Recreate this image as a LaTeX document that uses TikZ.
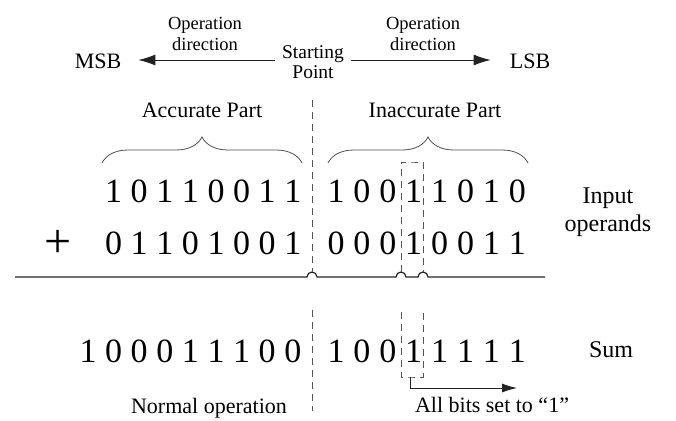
\documentclass[tikz,border=0pt]{standalone}
\usepackage{fontspec}
\setmainfont{Liberation Serif}
\usetikzlibrary{arrows.meta, positioning, calc, decorations.pathreplacing}
\definecolor{inkgray}{RGB}{35,35,35}
\definecolor{dashgray}{RGB}{85,85,85}

\begin{document}
\begin{tikzpicture}[
    x=1pt, y=-1pt,
    bit/.style={inner sep=0pt, font=\fontsize{34}{40}\selectfont},
    txt/.style={align=center, inner sep=1pt, font=\fontsize{22}{26}\selectfont},
    smalltxt/.style={align=center, inner sep=1pt, font=\fontsize{18.5}{21}\selectfont},
    arrow/.style={-{Latex[length=17pt,width=11pt]}, line width=0.9pt, draw=inkgray},
    divider/.style={draw=dashgray, line width=0.9pt, dash pattern=on 7pt off 5pt},
    brace/.style={draw=inkgray!80, line width=0.8pt, decorate, decoration={brace, amplitude=26pt}}
]
\useasboundingbox (0,0) rectangle (676,420);

% Direction
\node[txt] (msb) at (98,61) {MSB};
\node[txt] (lsb) at (530,61) {LSB};
\node[smalltxt, font=\fontsize{19.5}{20}\selectfont] (start) at (313,62) {Starting\\Point};
\node[smalltxt] (opleft) at (205,34) {Operation\\direction};
\node[smalltxt] (opright) at (423,34) {Operation\\direction};
\draw[arrow] (start.west) ++(-6,-2) coordinate (startl) -- ($(msb.east)+(16,-1)$);
\draw[arrow] (start.east) ++(6,-2) coordinate (startr) -- ($(lsb.west)+(-18,-1)$);

% Parts
\node[txt] (acc) at (202,110) {Accurate Part};
\node[txt] (inacc) at (435,110) {Inaccurate Part};
\draw[brace] (102,163) -- (302,163);
\draw[brace] (328,163) -- (528,163);

% Input operands
\foreach \d [count=\i] in {1,0,1,1,0,0,1,1}
  \node[bit] (a\i) at ({88+25.6*\i},191) {\d};
\foreach \d [count=\i] in {1,0,0,1,1,0,1,0}
  \node[bit] (ar\i) at ({336+25.9*(\i-1)},191) {\d};
\foreach \d [count=\i] in {0,1,1,0,1,0,0,1}
  \node[bit] (b\i) at ({88+25.6*\i},243) {\d};
\foreach \d [count=\i] in {0,0,0,1,0,0,1,1}
  \node[bit] (br\i) at ({336+25.9*(\i-1)},243) {\d};
\node[bit, font=\fontsize{48}{50}\selectfont] (plus) at (58.5,244) {+};
\node[txt, font=\fontsize{24}{28}\selectfont] (inop) at (608,212) {Input\\operands};

% Sum line with hops
\draw[inkgray, line width=1.2pt] (15,277) -- (307,277) arc (180:0:5pt)
  -- (396,277) arc (180:0:5pt) -- (418,277) arc (180:0:5pt) -- (545,277);

% Sum
\foreach \d [count=\i] in {1,0,0,0,1,1,1,0,0}
  \node[bit] (s\i) at ({88+25.6*(\i-1)},351) {\d};
\foreach \d [count=\i] in {1,0,0,1,1,1,1,1}
  \node[bit] (sr\i) at ({336+25.9*(\i-1)},351) {\d};
\node[txt, font=\fontsize{24}{28}\selectfont] (sum) at (611,350) {Sum};

% Starting point divider
\coordinate (ptop) at (312,100);
\coordinate (phop) at (312,272);
\coordinate (plow) at (312,310);
\coordinate (pend) at (312,411);
\draw[divider] (ptop) -- (phop);
\draw[divider] (plow) -- (pend);

% Dashed box round the set bit
\coordinate (boxl) at (401,272);
\coordinate (boxr) at (423,272);
\coordinate (boxtop) at (412,162);
\draw[divider] (boxl) |- (boxtop) -| (boxr);
\coordinate (boxl2) at (401,312);
\coordinate (boxr2) at (423,312);
\coordinate (boxbot) at (412,377);
\draw[divider] (boxl2) |- (boxbot) -| (boxr2);

% Result notes
\coordinate (setstart) at (410,377);
\coordinate (setend) at (517,388);
\draw[-{Latex[length=15pt,width=9pt]}, line width=0.9pt, draw=inkgray] (setstart) |- (setend);
\node[txt] (allbits) at (492,405) {All bits set to “1”};
\node[txt] (normal) at (209,408) {Normal operation};

\end{tikzpicture}
\end{document}
